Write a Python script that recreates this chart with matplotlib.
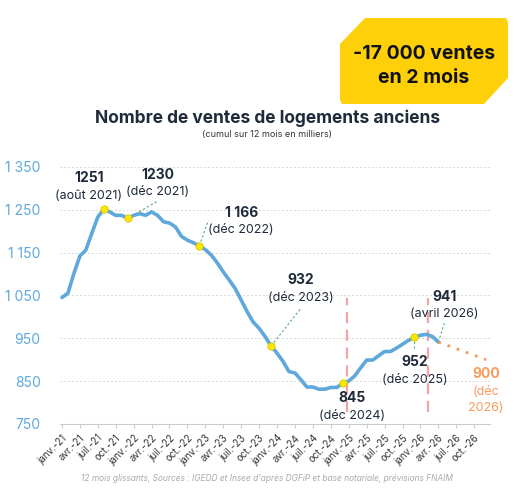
import matplotlib.pyplot as plt
from matplotlib.patches import Polygon
import numpy as np

plt.rcParams['font.family'] = ['Inter', 'DejaVu Sans']

# ventes cumulées sur 12 mois (milliers), janv. 2021 -> avr. 2026
ventes = [1045, 1055, 1101, 1142, 1156, 1195, 1233, 1251, 1245, 1237, 1237, 1230,
          1237, 1241, 1237, 1245, 1237, 1222, 1219, 1210, 1188, 1179, 1173, 1166,
          1157, 1144, 1126, 1105, 1086, 1066, 1039, 1012, 988, 973, 954, 932,
          915, 896, 872, 869, 853, 836, 836, 831, 831, 835, 835, 845,
          850, 862, 881, 899, 899, 909, 919, 919, 927, 936, 945, 952,
          957, 959, 954, 941]
prev_mois = [63, 71]
prev_vals = [941, 900]
points_mois = [7, 11, 23, 35, 47, 59]
tick_labels = []
for yy in range(21, 27):
    for m in ['janv.', 'avr.', 'juil.', 'oct.']:
        tick_labels.append(f'{m}-{yy}')

fig = plt.figure(figsize=(5.14, 4.94), dpi=100)
ax = fig.add_axes([0.117, 0.142, 0.837, 0.52])
mois = np.arange(len(ventes))
blue = '#5ea8dc'
orange = '#f79a5c'
ax.plot(mois, ventes, color=blue, lw=2.6, solid_capstyle='round', zorder=3)
ax.plot(prev_mois, prev_vals, color=orange, lw=2, ls=(0, (1, 2.5)), zorder=3)
ax.scatter(points_mois, [ventes[i] for i in points_mois], s=28, color='#ffe600',
           edgecolor='#d8c800', lw=0.6, zorder=4)

for x in [47.7, 61.3]:
    ax.plot([x, x], [778, 1044], color='#f4a3a8', lw=1.6, ls=(0, (5, 3)), zorder=2)

dark = '#1f2a3a'
ann = [  # (valeur, date, x, y valeur, y date, trait)
    ('1251', '(août 2021)', 4.5, 1324, 1283, None),
    ('1230', '(déc 2021)', 16, 1331, 1292, (11, 1230, 16, 1270)),
    ('1 166', '(déc 2022)', 30, 1243, 1203, (23, 1166, 24.5, 1225)),
    ('932', '(déc 2023)', 40, 1086, 1044, (35, 932, 40, 1020)),
    ('845', '(déc 2024)', 48.5, 810, 768, None),
    ('952', '(déc 2025)', 59, 894, 852, (59, 952, 59, 925)),
    ('941', '(avril 2026)', 64, 1046, 1007, (63, 941, 64, 985)),
]
for v, d, x, yv, yd, lead in ann:
    ax.text(x, yv, v, ha='center', va='center', fontsize=10, fontweight='bold', color=dark)
    ax.text(x, yd, d, ha='center', va='center', fontsize=9, color=dark)
    if lead:
        ax.plot([lead[0], lead[2]], [lead[1], lead[3]], color='#4caf75', lw=0.8,
                ls=(0, (2, 2)), zorder=2)
ax.text(71, 867, '900', ha='center', va='center', fontsize=10, fontweight='bold', color=orange)
ax.text(71, 825, '(déc', ha='center', va='center', fontsize=9, color=orange)
ax.text(71, 786, '2026)', ha='center', va='center', fontsize=9, color=orange)

ax.set_xlim(-0.3, 71.7)
ax.set_ylim(750, 1350)
ax.set_yticks([750, 850, 950, 1050, 1150, 1250, 1350])
ax.set_yticklabels(['750', '850', '950', '1 050', '1 150', '1 250', '1 350'])
ax.set_xticks(np.arange(0, 72, 3))
ax.set_xticklabels(tick_labels, rotation=45, ha='right', rotation_mode='anchor', fontsize=7, color='#333')
ax.tick_params(axis='y', colors=blue, labelsize=10, length=0, pad=14)
ax.tick_params(axis='x', length=3, color='#ccc')
ax.grid(axis='y', color='#d8d8d8', ls=(0, (2, 2)), lw=0.7)
for s in ['top', 'right', 'left']:
    ax.spines[s].set_visible(False)
ax.spines['bottom'].set_color('#ccc')

fig.text(0.52, 0.76, 'Nombre de ventes de logements anciens', ha='center', va='center',
         fontsize=12.5, fontweight='bold', color=dark)
fig.text(0.52, 0.727, '(cumul sur 12 mois en milliers)', ha='center', va='center',
         fontsize=6.5, color='#333')
fig.text(0.52, 0.032, "12 mois glissants, Sources : IGEDD et Insee d'après DGFiP et base notariale, prévisions FNAIM",
         ha='center', va='center', fontsize=6, style='italic', color='#aaaaaa')

W, H = 514, 494
pts = [(365, 18), (506, 18), (508, 22), (508, 78), (484, 104), (342, 104), (340, 100), (340, 44)]
box = Polygon([(x / W, 1 - y / H) for x, y in pts], closed=True, transform=fig.transFigure,
              facecolor='#fdd00a', edgecolor='none')
fig.patches.append(box)
fig.text(424 / W, 1 - 54 / H, '-17 000 ventes', ha='center', va='center', fontsize=14,
         fontweight='bold', color='#111')
fig.text(424 / W, 1 - 78 / H, 'en 2 mois', ha='center', va='center', fontsize=14,
         fontweight='bold', color='#111')

fig.savefig('out.png', dpi=100, facecolor='white')
